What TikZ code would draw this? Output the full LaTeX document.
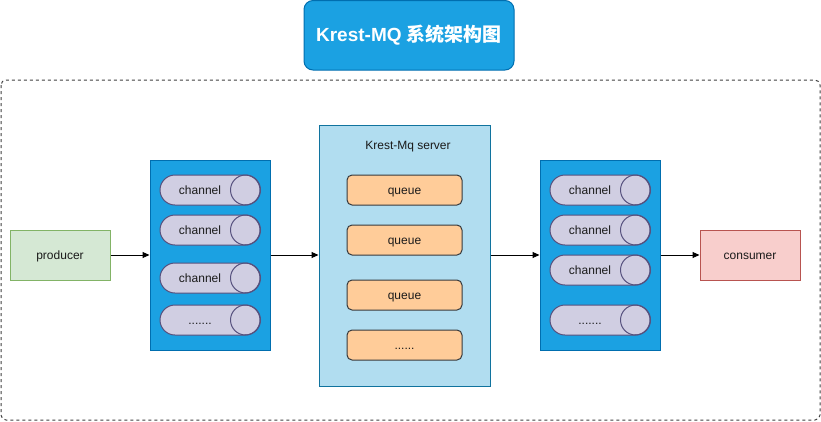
\documentclass[tikz,border=0pt]{standalone}
\usepackage{fontspec}
\setmainfont{Liberation Sans}
\newfontfamily\cjkfont{Noto Sans CJK SC}
\usetikzlibrary{shapes.misc,arrows.meta}
\definecolor{bluefill}{HTML}{1BA1E2}
\definecolor{bluedraw}{HTML}{006EAF}
\definecolor{chfill}{HTML}{D0CEE2}
\definecolor{chdraw}{HTML}{56517E}
\definecolor{srvfill}{HTML}{B1DDF0}
\definecolor{srvdraw}{HTML}{10739E}
\definecolor{qfill}{HTML}{FFCC99}
\definecolor{qdraw}{HTML}{36393D}
\definecolor{prodfill}{HTML}{D5E8D4}
\definecolor{proddraw}{HTML}{82B366}
\definecolor{consfill}{HTML}{F8CECC}
\definecolor{consdraw}{HTML}{B85450}
\definecolor{txt}{HTML}{1A1A1A}
\tikzset{
  lbl/.style={text height=8.6pt, text depth=0pt},
  titlebox/.style={draw=bluedraw, fill=bluefill, rounded corners=9pt, minimum width=210pt, minimum height=69.5pt, text=white, font=\fontsize{19}{22}\selectfont\bfseries},
  outerframe/.style={draw=black!75, dash pattern=on 3pt off 3pt, rounded corners=5pt},
  bluebox/.style={draw=bluedraw, fill=bluefill, minimum width=120pt, minimum height=190pt, inner sep=0pt},
  chbody/.style={rounded rectangle, draw=chdraw, fill=chfill, minimum width=100pt, minimum height=30pt, inner sep=0pt},
  chcap/.style={draw=chdraw},
  chlabel/.style={lbl, text=txt, inner sep=0pt},
  server/.style={draw=srvdraw, fill=srvfill, minimum width=171pt, minimum height=261pt, inner sep=0pt},
  queuebox/.style={lbl, draw=qdraw, fill=qfill, rounded corners=5pt, minimum width=115pt, minimum height=30pt, text=txt, inner sep=0pt},
  prodbox/.style={lbl, draw=proddraw, fill=prodfill, minimum width=100pt, minimum height=50pt, text=txt},
  consbox/.style={lbl, draw=consdraw, fill=consfill, minimum width=100pt, minimum height=50pt, text=txt},
  flow/.style={draw=black, -{Triangle[length=7pt,width=6pt]}},
}
\newcommand{\chanl}[4]{% name, x, y, text
  \node[chbody] (#1) at (#2,#3) {};
  \draw[chcap] ([xshift=-15pt]#1.east) circle (15pt);
  \node[chlabel] (#1t) at ([xshift=-10pt]#1.center) {#4};
}
\begin{document}
\begin{tikzpicture}[x=1pt, y=-1pt, line width=1pt, font=\fontsize{12}{14}\selectfont]
\useasboundingbox (0,0) rectangle (821,421);
\draw[outerframe] (1,80) rectangle (820,420);
\node[titlebox] (title) at (409,35.25) {Krest-MQ {\cjkfont\bfseries 系统架构图}};

\node[prodbox] (producer) at (60,255) {producer};
\node[consbox] (consumer) at (750,255) {consumer};

\node[bluebox] (lbox) at (210,255) {};
\chanl{lc1}{210}{190}{channel}
\chanl{lc2}{210}{230}{channel}
\chanl{lc3}{210}{278}{channel}
\chanl{lc4}{210}{320}{.......}

\node[server] (server) at (404.5,255.5) {};
\node[lbl, text=txt] (srvtitle) at (408,145) {Krest-Mq server};
\node[queuebox] (q1) at (404.5,190) {queue};
\node[queuebox] (q2) at (404.5,240) {queue};
\node[queuebox] (q3) at (404.5,295) {queue};
\node[queuebox] (q4) at (404.5,345) {......};

\node[bluebox] (rbox) at (600,255) {};
\chanl{rc1}{600}{190}{channel}
\chanl{rc2}{600}{230}{channel}
\chanl{rc3}{600}{270}{channel}
\chanl{rc4}{600}{320}{.......}

\draw[flow] (producer.east) -- (producer.east -| lbox.west);
\draw[flow] (lbox.east) -- (lbox.east -| server.west);
\draw[flow] (server.east |- lbox.east) -- (lbox.east -| rbox.west);
\draw[flow] (rbox.east) -- (rbox.east -| consumer.west);
\end{tikzpicture}
\end{document}
